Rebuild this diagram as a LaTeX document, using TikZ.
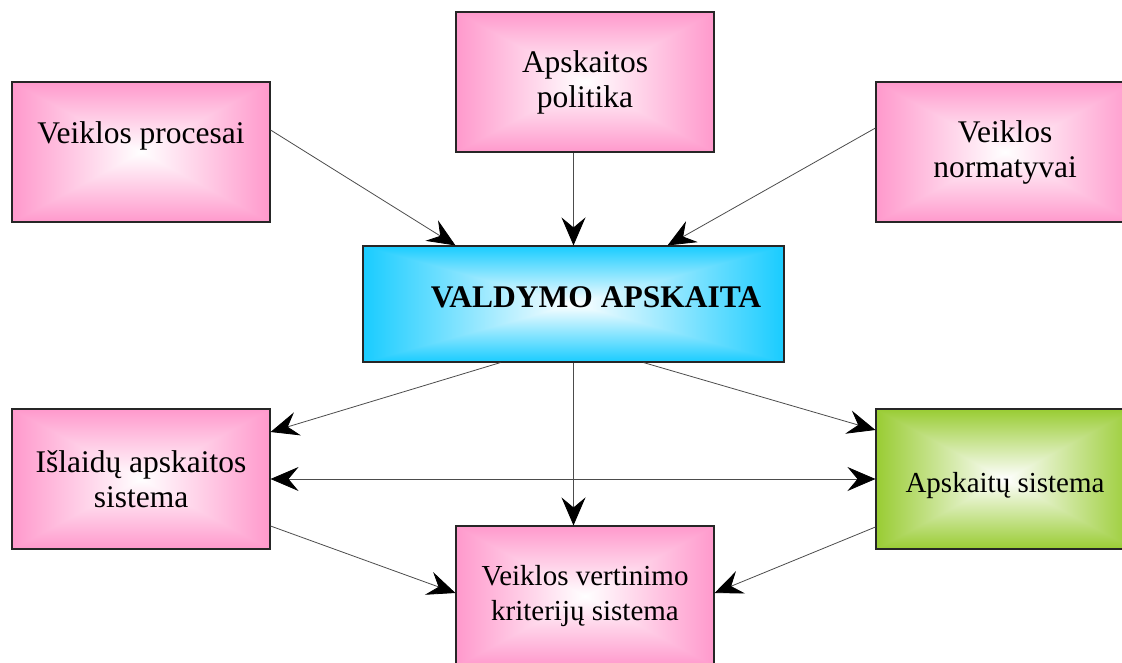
\documentclass[tikz,border=0pt]{standalone}
\usepackage{fontspec}
\setmainfont{Liberation Serif}
\usetikzlibrary{arrows.meta}

% Rectangular "from centre" gradient: white in the middle, #2..#4 = 1 - (r,g,b) of the edge colour
\newcommand\declboxshading[4]{%
  \pgfdeclarefunctionalshading{#1}{\pgfpoint{0bp}{0bp}}{\pgfpoint{100bp}{100bp}}{}{%
    50 sub abs exch 50 sub abs
    2 copy sub abs 3 1 roll add add 2 div 25 div
    dup #2 mul 1 exch sub exch
    dup #3 mul 1 exch sub exch
    #4 mul 1 exch sub}}
\declboxshading{pinkfill}{0}{0.4}{0.2}
\declboxshading{bluefill}{0.9}{0.2}{0}
\declboxshading{greenfill}{0.4}{0.2}{0.8}

\begin{document}
\begin{tikzpicture}[x=1pt,y=-1pt,
  >={Stealth[length=28pt,width=24pt,inset=10pt,color=black]},
  box/.style={draw=black!85, line width=1.1pt, shade, shading=pinkfill,
    minimum width=258pt, minimum height=140pt, inner sep=0pt, align=center,
    font=\fontsize{31.5}{35}\selectfont},
  smalltext/.style={font=\fontsize{29}{34.5}\selectfont},
  link/.style={draw=black!70, line width=0.8pt, ->},
]
\clip (0,0) rectangle (1122,662);

% boxes
\node[box, text depth=39pt] (proc) at (141,152) {Veiklos procesai};
\node[box] (pol)  at (585,82)  {Apskaitos\\politika};
\node[box] (norm) at (1005,152) {Veiklos\\normatyvai};
\node[box, shading=bluefill, minimum width=421pt, minimum height=116pt] (val) at (573.5,304) {};
\node[font=\fontsize{31.5}{35}\selectfont\bfseries, xshift=22.5pt, yshift=6.5pt] (valtitle) at (val.center) {VALDYMO APSKAITA};
\node[box] (isl)  at (141,479) {Išlaidų apskaitos\\sistema};
\node[box, smalltext, shading=greenfill, text height=33pt] (aps) at (1005,479) {Apskaitų sistema};
\node[box, smalltext] (vert) at (585,596) {Veiklos vertinimo\\kriterijų sistema};

% connectors into the central box
\draw[link] ([yshift=22pt]proc.east) -- ([xshift=-118pt]val.north);
\draw[link] (val.north |- pol.south) -- (val.north);
\draw[link] ([yshift=24pt]norm.west) -- ([xshift=94pt]val.north);

% connectors out of the central box
\draw[link] ([xshift=-73pt]val.south) -- ([yshift=47pt]isl.east);
\draw[link] (val.south) -- (val.south |- vert.north);
\draw[link] ([xshift=70pt]val.south) -- ([yshift=49pt]aps.west);

% link between the two systems
\draw[link, <->] (isl.east) -- (aps.west);

% connectors into the evaluation box
\draw[link] ([yshift=-47pt]isl.east) -- ([yshift=3pt]vert.west);
\draw[link] ([yshift=-48pt]aps.west) -- ([yshift=3pt]vert.east);
\end{tikzpicture}
\end{document}
